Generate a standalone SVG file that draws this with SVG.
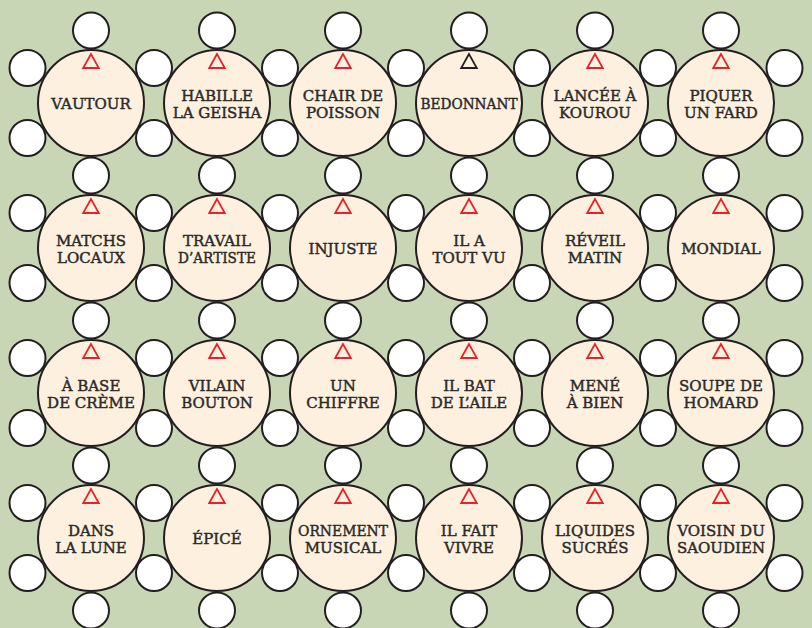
<svg xmlns="http://www.w3.org/2000/svg" width="812" height="628" viewBox="0 0 812 628">
<style>
.bg{fill:#c8d6b5}
.big{fill:#fdf0df;stroke:#231f20;stroke-width:2}
.sm{fill:#ffffff;stroke:#231f20;stroke-width:2}
.tri{fill:none;stroke:#e8212b;stroke-width:1.8;stroke-linejoin:miter}
.tri.k{stroke:#231f20}
text{font-family:"DejaVu Serif","Liberation Serif",serif;font-size:15px;fill:#2b2a29;stroke:#2b2a29;stroke-width:0.45;text-anchor:middle}
</style>
<defs>
<circle id="s" r="18" class="sm"/>
<circle id="b" r="53" class="big"/>
<path id="t" d="M0,-49 L-7.8,-35 L7.8,-35 Z"/>
</defs>
<rect class="bg" x="0" y="0" width="812" height="628"/>
<g id="cells">
<g id="cells-top">
<use href="#s" x="91" y="30.5"/><use href="#s" x="217" y="30.5"/><use href="#s" x="343" y="30.5"/><use href="#s" x="469" y="30.5"/><use href="#s" x="595" y="30.5"/><use href="#s" x="721" y="30.5"/>
<use href="#s" x="91" y="175.5"/><use href="#s" x="217" y="175.5"/><use href="#s" x="343" y="175.5"/><use href="#s" x="469" y="175.5"/><use href="#s" x="595" y="175.5"/><use href="#s" x="721" y="175.5"/>
<use href="#s" x="91" y="320.5"/><use href="#s" x="217" y="320.5"/><use href="#s" x="343" y="320.5"/><use href="#s" x="469" y="320.5"/><use href="#s" x="595" y="320.5"/><use href="#s" x="721" y="320.5"/>
<use href="#s" x="91" y="465.5"/><use href="#s" x="217" y="465.5"/><use href="#s" x="343" y="465.5"/><use href="#s" x="469" y="465.5"/><use href="#s" x="595" y="465.5"/><use href="#s" x="721" y="465.5"/>
<use href="#s" x="91" y="610.5"/><use href="#s" x="217" y="610.5"/><use href="#s" x="343" y="610.5"/><use href="#s" x="469" y="610.5"/><use href="#s" x="595" y="610.5"/><use href="#s" x="721" y="610.5"/>
</g>
<g id="cells-side">
<use href="#s" x="27.5" y="68"/><use href="#s" x="154" y="68"/><use href="#s" x="280" y="68"/><use href="#s" x="406" y="68"/><use href="#s" x="532" y="68"/><use href="#s" x="658" y="68"/><use href="#s" x="784.5" y="68"/>
<use href="#s" x="27.5" y="138"/><use href="#s" x="154" y="138"/><use href="#s" x="280" y="138"/><use href="#s" x="406" y="138"/><use href="#s" x="532" y="138"/><use href="#s" x="658" y="138"/><use href="#s" x="784.5" y="138"/>
<use href="#s" x="27.5" y="213"/><use href="#s" x="154" y="213"/><use href="#s" x="280" y="213"/><use href="#s" x="406" y="213"/><use href="#s" x="532" y="213"/><use href="#s" x="658" y="213"/><use href="#s" x="784.5" y="213"/>
<use href="#s" x="27.5" y="283"/><use href="#s" x="154" y="283"/><use href="#s" x="280" y="283"/><use href="#s" x="406" y="283"/><use href="#s" x="532" y="283"/><use href="#s" x="658" y="283"/><use href="#s" x="784.5" y="283"/>
<use href="#s" x="27.5" y="358"/><use href="#s" x="154" y="358"/><use href="#s" x="280" y="358"/><use href="#s" x="406" y="358"/><use href="#s" x="532" y="358"/><use href="#s" x="658" y="358"/><use href="#s" x="784.5" y="358"/>
<use href="#s" x="27.5" y="428"/><use href="#s" x="154" y="428"/><use href="#s" x="280" y="428"/><use href="#s" x="406" y="428"/><use href="#s" x="532" y="428"/><use href="#s" x="658" y="428"/><use href="#s" x="784.5" y="428"/>
<use href="#s" x="27.5" y="503"/><use href="#s" x="154" y="503"/><use href="#s" x="280" y="503"/><use href="#s" x="406" y="503"/><use href="#s" x="532" y="503"/><use href="#s" x="658" y="503"/><use href="#s" x="784.5" y="503"/>
<use href="#s" x="27.5" y="573"/><use href="#s" x="154" y="573"/><use href="#s" x="280" y="573"/><use href="#s" x="406" y="573"/><use href="#s" x="532" y="573"/><use href="#s" x="658" y="573"/><use href="#s" x="784.5" y="573"/>
</g>
</g>
<!-- row 1 -->
<g id="n-vautour" transform="translate(91,103)"><use href="#b"/><use href="#t" class="tri"/><text y="6">VAUTOUR</text></g>
<g id="n-habille" transform="translate(217,103)"><use href="#b"/><use href="#t" class="tri"/><text y="-2.5">HABILLE</text><text y="15.3">LA GEISHA</text></g>
<g id="n-chair" transform="translate(343,103)"><use href="#b"/><use href="#t" class="tri"/><text y="-2.5">CHAIR DE</text><text y="15.3">POISSON</text></g>
<g id="n-bedonnant" transform="translate(469,103)"><use href="#b"/><use href="#t" class="tri k"/><text y="6" textLength="97" lengthAdjust="spacingAndGlyphs">BEDONNANT</text></g>
<g id="n-lancee" transform="translate(595,103)"><use href="#b"/><use href="#t" class="tri"/><text y="-2.5">LANCÉE À</text><text y="15.3">KOUROU</text></g>
<g id="n-piquer" transform="translate(721,103)"><use href="#b"/><use href="#t" class="tri"/><text y="-2.5">PIQUER</text><text y="15.3">UN FARD</text></g>
<!-- row 2 -->
<g id="n-matchs" transform="translate(91,248)"><use href="#b"/><use href="#t" class="tri"/><text y="-2.5">MATCHS</text><text y="15.3">LOCAUX</text></g>
<g id="n-travail" transform="translate(217,248)"><use href="#b"/><use href="#t" class="tri"/><text y="-2.5">TRAVAIL</text><text y="15.3" textLength="78" lengthAdjust="spacingAndGlyphs">D’ARTISTE</text></g>
<g id="n-injuste" transform="translate(343,248)"><use href="#b"/><use href="#t" class="tri"/><text y="6">INJUSTE</text></g>
<g id="n-ilatoutvu" transform="translate(469,248)"><use href="#b"/><use href="#t" class="tri"/><text y="-2.5">IL A</text><text y="15.3">TOUT VU</text></g>
<g id="n-reveil" transform="translate(595,248)"><use href="#b"/><use href="#t" class="tri"/><text y="-2.5">RÉVEIL</text><text y="15.3">MATIN</text></g>
<g id="n-mondial" transform="translate(721,248)"><use href="#b"/><use href="#t" class="tri"/><text y="6">MONDIAL</text></g>
<!-- row 3 -->
<g id="n-abase" transform="translate(91,393)"><use href="#b"/><use href="#t" class="tri"/><text y="-2.5">À BASE</text><text y="15.3">DE CRÈME</text></g>
<g id="n-vilain" transform="translate(217,393)"><use href="#b"/><use href="#t" class="tri"/><text y="-2.5">VILAIN</text><text y="15.3">BOUTON</text></g>
<g id="n-unchiffre" transform="translate(343,393)"><use href="#b"/><use href="#t" class="tri"/><text y="-2.5">UN</text><text y="15.3">CHIFFRE</text></g>
<g id="n-ilbat" transform="translate(469,393)"><use href="#b"/><use href="#t" class="tri"/><text y="-2.5">IL BAT</text><text y="15.3">DE L’AILE</text></g>
<g id="n-mene" transform="translate(595,393)"><use href="#b"/><use href="#t" class="tri"/><text y="-2.5">MENÉ</text><text y="15.3">À BIEN</text></g>
<g id="n-soupe" transform="translate(721,393)"><use href="#b"/><use href="#t" class="tri"/><text y="-2.5">SOUPE DE</text><text y="15.3">HOMARD</text></g>
<!-- row 4 -->
<g id="n-dans" transform="translate(91,538)"><use href="#b"/><use href="#t" class="tri"/><text y="-2.5">DANS</text><text y="15.3">LA LUNE</text></g>
<g id="n-epice" transform="translate(217,538)"><use href="#b"/><use href="#t" class="tri"/><text y="6">ÉPICÉ</text></g>
<g id="n-ornement" transform="translate(343,538)"><use href="#b"/><use href="#t" class="tri"/><text y="-2.5" textLength="90" lengthAdjust="spacingAndGlyphs">ORNEMENT</text><text y="15.3">MUSICAL</text></g>
<g id="n-ilfait" transform="translate(469,538)"><use href="#b"/><use href="#t" class="tri"/><text y="-2.5">IL FAIT</text><text y="15.3">VIVRE</text></g>
<g id="n-liquides" transform="translate(595,538)"><use href="#b"/><use href="#t" class="tri"/><text y="-2.5">LIQUIDES</text><text y="15.3">SUCRÉS</text></g>
<g id="n-voisin" transform="translate(721,538)"><use href="#b"/><use href="#t" class="tri"/><text y="-2.5">VOISIN DU</text><text y="15.3">SAOUDIEN</text></g>
</svg>
